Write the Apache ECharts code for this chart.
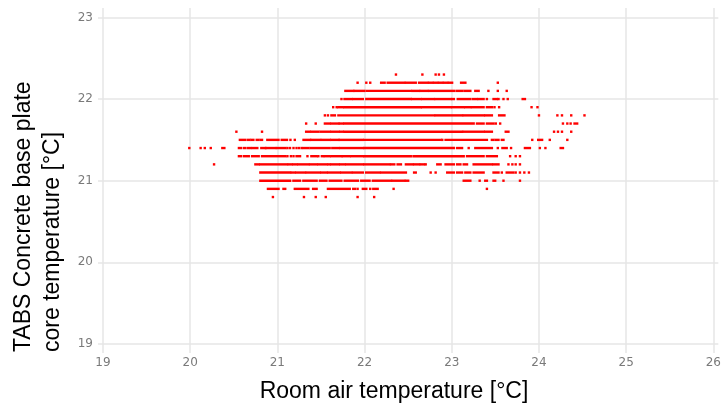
<!DOCTYPE html>
<html><head><meta charset="utf-8">
<script src="https://cdn.jsdelivr.net/npm/echarts@6/dist/echarts.min.js"></script>
<style>html,body{margin:0;padding:0;background:#fff}#c{width:724px;height:407px}</style>
</head><body><div id="c"></div>
<script>
// Tick labels
const xTicks = [19, 20, 21, 22, 23, 24, 25, 26];
const yTicks = [19, 20, 21, 22, 23];

// Each row: runs of observed points at one core-temperature level.
// [x] = single point, [x1, x2] = run of closely spaced points from x1 to x2.
const row_22_3 = [[22.36],[22.663],[22.815],[22.853],[22.91]];
const row_22_2 = [[21.92],[22.02],[22.065],[22.19,22.23],[22.265,22.455],[22.474,22.587],[22.625,22.72],[22.739,22.777],[22.796,22.834],[22.853,22.891],[22.91,22.948],[22.967,23.004],[23.107,23.156],[23.528]];
const row_22_1 = [[21.78,21.87],[21.885,22.0],[22.03,22.53],[22.549,22.625],[22.644,22.72],[22.739,23.023],[23.054,23.118],[23.145,23.213],[23.27,23.308],[23.42],[23.528],[23.63]];
const row_22_0 = [[21.735],[21.77,21.85],[21.87,21.98],[22.02,22.53],[22.549,22.644],[22.663,22.796],[22.815,22.985],[23.004,23.023],[23.069,23.213],[23.243,23.289],[23.308,23.365],[23.403],[23.479,23.517],[23.536],[23.593],[23.642],[23.813,23.839]];
const row_21_9 = [[21.64],[21.68],[21.70,21.75],[21.77,22.644],[22.663,22.985],[23.004,23.137],[23.156,23.213],[23.232,23.365],[23.403,23.46],[23.49],[23.543],[23.915],[23.983]];
const row_21_8 = [[21.545],[21.58],[21.62,21.66],[21.70,22.796],[22.815,23.118],[23.137,23.365],[23.384,23.46],[23.543,23.604],[24.0],[24.211],[24.264],[24.37],[24.522]];
const row_21_7 = [[21.33],[21.44],[21.545,21.60],[21.62,21.70],[21.715,21.75],[21.77,23.251],[23.289,23.365],[23.403,23.479],[23.505],[23.555],[24.275],[24.325],[24.363],[24.408,24.438]];
const row_21_6 = [[20.53],[20.824],[21.33,21.37],[21.39,21.47],[21.495,21.60],[21.62,21.70],[21.72,21.75],[21.77,23.118],[23.137,23.365],[23.384,23.46],[23.619,23.65],[24.173],[24.218],[24.264],[24.37]];
const row_21_5 = [[20.57,20.634],[20.665,20.68],[20.703,20.725],[20.763,20.778],[20.805,20.824],[20.885,21.013],[21.05,21.11],[21.15],[21.20],[21.30,21.375],[21.39,21.49],[21.51,21.60],[21.62,21.70],[21.715,21.98],[22.0,22.872],[22.891],[22.929,23.403],[23.46,23.479],[23.505,23.536],[23.574,23.593],[23.923],[23.991,24.036],[24.124],[24.325]];
const row_21_4 = [[19.99],[20.12],[20.168],[20.236],[20.369,20.392],[20.559,20.581],[20.615,20.634],[20.665,20.688],[20.71,20.77],[20.816,20.862],[20.87,20.976],[20.995,21.09],[21.115],[21.145],[21.185],[21.22],[21.25],[21.28],[21.305,21.355],[21.38,21.60],[21.63,21.70],[21.72,21.98],[22.0,23.023],[23.061,23.118],[23.194],[23.27,23.46],[23.528],[23.581,23.63],[23.68],[23.839,23.896],[24.01],[24.074],[24.249,24.275]];
const row_21_3 = [[20.559,20.581],[20.615,20.672],[20.71,20.786],[20.824,21.09],[21.115],[21.155],[21.185],[21.22,21.26],[21.345],[21.39,21.45],[21.47],[21.51,21.525],[21.545,21.60],[21.62,21.735],[21.75,21.83],[21.85,21.98],[22.0,22.53],[22.561,23.137],[23.175,23.365],[23.403,23.517],[23.669],[23.733],[23.782]];
const row_21_2 = [[20.274],[20.748,20.786],[20.805,21.11],[21.13,21.165],[21.185,21.22],[21.24,21.355],[21.375,21.45],[21.47,21.565],[21.585,21.60],[21.62,21.70],[21.72,21.77],[21.79,21.98],[22.0,22.284],[22.303,22.341],[22.379,22.417],[22.474,22.549],[22.568,22.625],[22.644,22.682],[22.701],[22.834,22.872],[22.929,23.023],[23.061,23.099],[23.137,23.175],[23.251,23.46],[23.479,23.536],[23.65],[23.695],[23.733],[23.782]];
const row_21_1 = [[20.805,21.146],[21.165,21.20],[21.22,21.317],[21.336,21.487],[21.507,21.563],[21.582,21.715],[21.734,21.848],[21.867,21.98],[22.018,22.17],[22.19,22.474],[22.568,22.587],[22.758],[22.815],[22.948,23.023],[23.061,23.118],[23.156,23.213],[23.251,23.365],[23.479,23.536],[23.574],[23.63,23.706],[23.733],[23.782],[23.832],[23.885]];
const row_21_0 = [[20.805,21.146],[21.184,21.26],[21.298,21.45],[21.488,21.563],[21.60,21.734],[21.772,21.924],[21.962,22.057],[22.095,22.303],[22.322,22.455],[22.474,22.5],[23.137,23.213],[23.32],[23.384,23.403],[23.479,23.498],[23.593],[23.782]];
const row_20_9 = [[20.892,21.013],[21.07,21.09],[21.20,21.355],[21.41,21.45],[21.58,21.83],[21.87,21.89],[21.92],[21.98,22.02],[22.065],[22.10,22.15],[22.333],[23.403]];
const row_20_8 = [[20.949],[21.305],[21.44],[21.555],[21.92],[22.11]];

const rowLevels = [22.3, 22.2, 22.1, 22.0, 21.9, 21.8, 21.7, 21.6, 21.5, 21.4, 21.3, 21.2, 21.1, 21.0, 20.9, 20.8];
const rowRuns = [row_22_3, row_22_2, row_22_1, row_22_0, row_21_9, row_21_8, row_21_7, row_21_6, row_21_5, row_21_4, row_21_3, row_21_2, row_21_1, row_21_0, row_20_9, row_20_8];

const runData = [];
rowLevels.forEach((y, i) => {
  rowRuns[i].forEach(r => runData.push([r[0], r.length > 1 ? r[1] : r[0], y]));
});

const chart = echarts.init(document.getElementById('c'), null, {renderer: 'canvas'});
const gridColor = '#e6e6e6';
chart.setOption({
  animation: false,
  backgroundColor: '#ffffff',
  grid: {left: 98, right: 1, top: 8, bottom: 54, containLabel: false},
  xAxis: {
    type: 'value', min: 18.943, max: 26.057,
    axisLine: {show: false},
    axisTick: {show: false, customValues: xTicks},
    axisLabel: {customValues: xTicks, color: '#7a7a7a', fontSize: 12, fontFamily: 'DejaVu Sans', margin: 4},
    splitLine: {show: true, lineStyle: {color: gridColor, width: 1.5}}
  },
  yAxis: {
    type: 'value', min: 18.89, max: 23.115,
    axisLine: {show: false},
    axisTick: {show: false, customValues: yTicks},
    axisLabel: {customValues: yTicks, color: '#7a7a7a', fontSize: 12, fontFamily: 'DejaVu Sans', margin: 5},
    splitLine: {show: true, lineStyle: {color: gridColor, width: 1.5}}
  },
  graphic: [
    {type: 'text', x: 24, y: 352, rotation: Math.PI / 2,
     style: {text: 'TABS Concrete base plate', font: '23px "Liberation Sans"', fill: '#000', align: 'left', verticalAlign: 'middle'}},
    {type: 'text', x: 53, y: 352, rotation: Math.PI / 2,
     style: {text: 'core temperature [°C]', font: '23px "Liberation Sans"', fill: '#000', align: 'left', verticalAlign: 'middle'}},
    {type: 'text', x: 394, y: 392,
     style: {text: 'Room air temperature [°C]', font: '23px "Liberation Sans"', fill: '#000', align: 'center', verticalAlign: 'middle'}}
  ],
  series: [{
    type: 'custom',
    data: runData,
    encode: {x: [0, 1], y: 2},
    renderItem: function (params, api) {
      const a = api.coord([api.value(0), api.value(2)]);
      const b = api.coord([api.value(1), api.value(2)]);
      const h = 2.4;
      return {
        type: 'rect',
        shape: {x: a[0] - h / 2, y: a[1] - h / 2, width: b[0] - a[0] + h, height: h},
        style: {fill: '#ff0000'}
      };
    }
  }]
});
</script></body></html>
